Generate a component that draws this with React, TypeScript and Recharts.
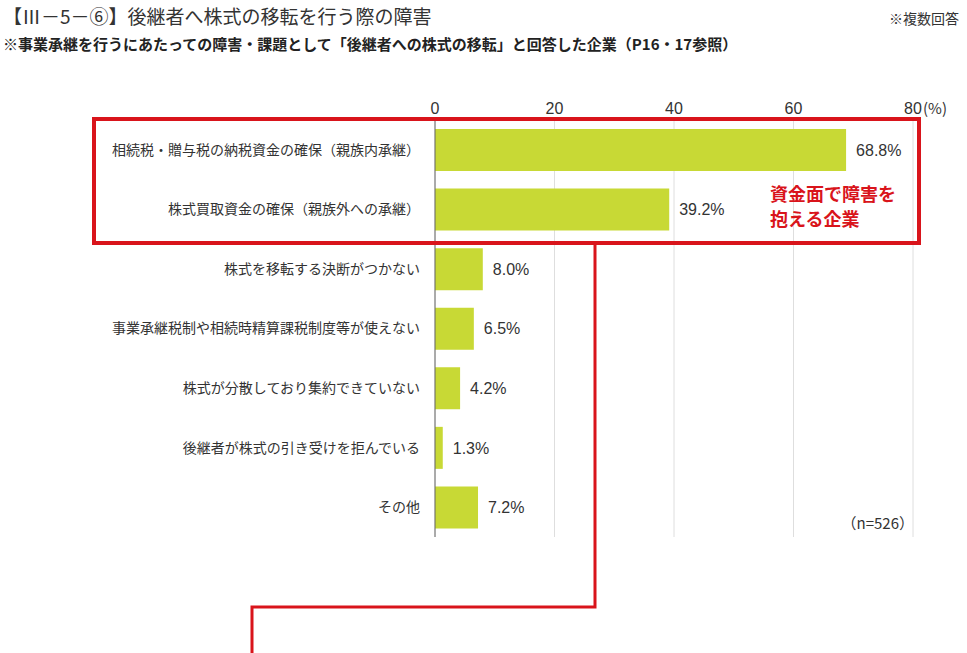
import React from 'react';
import { BarChart, Bar, XAxis, YAxis, CartesianGrid, LabelList } from 'recharts';

const categories = [
  '相続税・贈与税の納税資金の確保（親族内承継）',
  '株式買取資金の確保（親族外への承継）',
  '株式を移転する決断がつかない',
  '事業承継税制や相続時精算課税制度等が使えない',
  '株式が分散しており集約できていない',
  '後継者が株式の引き受けを拒んでいる',
  'その他',
];
const values = [68.8, 39.2, 8.0, 6.5, 4.2, 1.3, 7.2];
const xTicks = [0, 20, 40, 60, 80];

const data = categories.map((name, i) => ({ name, value: values[i] }));

const JP = '"Noto Sans CJK JP", sans-serif';
const NUM = '"Liberation Sans", Arial, sans-serif';
const RED = '#d9141b';
const BAR = '#c8d935';

const XTick = (props: any) => {
  const { x, y, payload } = props;
  return (
    <g>
      <text x={x} y={y} textAnchor="middle" fontSize={16} fill="#333" fontFamily={NUM}>
        {payload.value}
      </text>
      {payload.value === 80 && (
        <text x={x + 10} y={y} textAnchor="start" fontSize={15} fill="#333" fontFamily={JP}>
          (%)
        </text>
      )}
    </g>
  );
};

const App: React.FC = () => {
  return (
    <div style={{ position: 'absolute', left: 0, top: 0, width: 967, height: 653, background: '#fff' }}>
      <BarChart
        width={967}
        height={653}
        data={data}
        layout="vertical"
        margin={{ top: 90, right: 54, bottom: 116, left: 0 }}
      >
        <CartesianGrid horizontal={false} stroke="#dedede" />
        <XAxis
          type="number"
          orientation="top"
          domain={[0, 80]}
          ticks={xTicks}
          height={30}
          axisLine={false}
          tickLine={false}
          tickMargin={0}
          tick={<XTick />}
        />
        <YAxis
          type="category"
          dataKey="name"
          width={435}
          axisLine={{ stroke: '#666' }}
          tickLine={false}
          tickMargin={9}
          tick={{ fontSize: 14, fill: '#333', fontFamily: JP }}
        />
        <Bar dataKey="value" fill={BAR} barSize={42} isAnimationActive={false}>
          <LabelList
            dataKey="value"
            position="right"
            offset={10}
            formatter={(v: any) => `${Number(v).toFixed(1)}%`}
            style={{ fontSize: 16, fill: '#333', fontFamily: NUM }}
          />
        </Bar>
      </BarChart>
      <svg
        width={967}
        height={653}
        style={{ position: 'absolute', left: 0, top: 0, pointerEvents: 'none' }}
      >
        <text x={3} y={24} fontSize={19} fill="#333" fontFamily={JP}>
          【Ⅲ－5－⑥】後継者へ株式の移転を行う際の障害
        </text>
        <text x={3} y={50} fontSize={15} fill="#222" fontWeight="bold" fontFamily={JP}>
          ※事業承継を行うにあたっての障害・課題として「後継者への株式の移転」と回答した企業（P16・17参照）
        </text>
        <text x={959} y={24} textAnchor="end" fontSize={14} fill="#333" fontFamily={JP}>
          ※複数回答
        </text>
        <text x={914} y={529} textAnchor="end" fontSize={15} fill="#333" fontFamily={JP}>
          （n=526）
        </text>
        <rect x={94} y={119} width={825} height={124} fill="none" stroke={RED} strokeWidth={4} />
        <text x={770} y={201} fontSize={18} fontWeight="bold" fill={RED} fontFamily={JP}>
          資金面で障害を
        </text>
        <text x={770} y={226} fontSize={18} fontWeight="bold" fill={RED} fontFamily={JP}>
          抱える企業
        </text>
        <polyline
          points="595,243 595,607 252,607 252,653"
          fill="none"
          stroke={RED}
          strokeWidth={3}
        />
      </svg>
    </div>
  );
};

export default App;
